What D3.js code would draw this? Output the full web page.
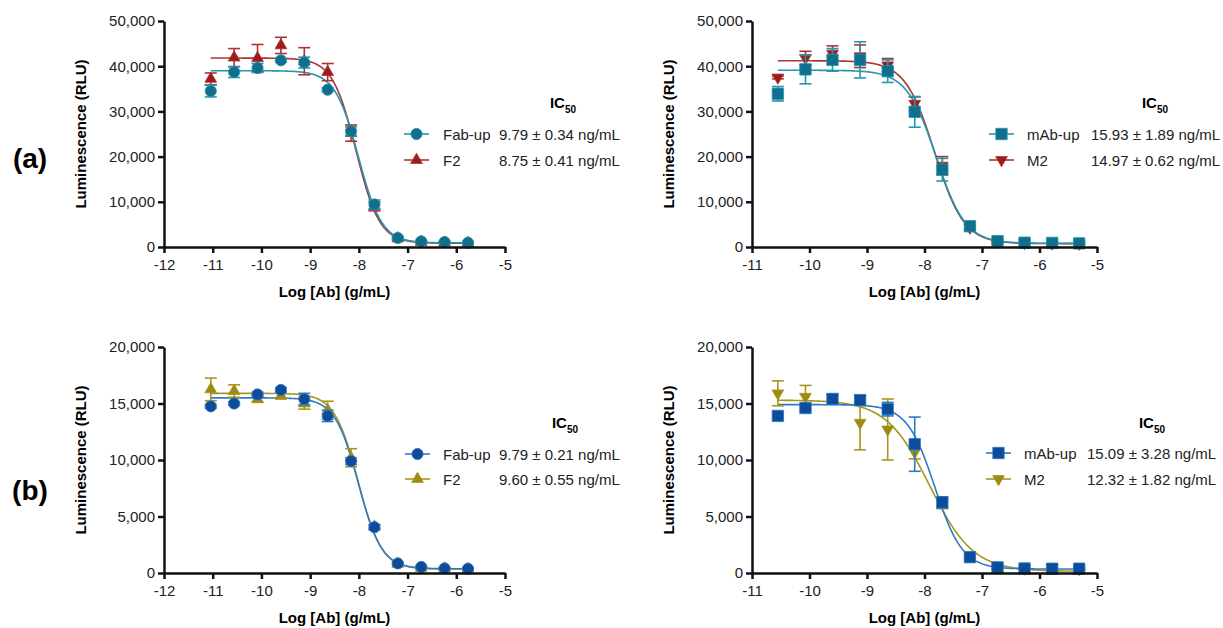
<!DOCTYPE html>
<html>
<head>
<meta charset="utf-8">
<script src="https://cdn.jsdelivr.net/npm/d3@7"></script>
<style>
  body { margin: 0; background: #fff; }
  svg { font-family: Arial, "Liberation Sans", sans-serif; }
  .axis path, .axis line { stroke: #111; stroke-width: 2.5px; }
  .axis text { font-size: 15px; fill: #222; }
</style>
</head>
<body>
<div id="chart"></div>
<script>
// x positions (log g/mL) of the dilution series
var xFab = [-11.04, -10.56, -10.08, -9.60, -9.12, -8.64, -8.16, -7.68, -7.20, -6.72, -6.24, -5.76];
var xMab = [-10.55, -10.07, -9.60, -9.12, -8.64, -8.17, -7.69, -7.21, -6.73, -6.26, -5.78, -5.31];

// (a) left
var fabUpA    = [34500, 38700, 39600, 41300, 40800, 34800, 25600, 9400, 2000, 1250, 1100, 950];
var fabUpAErr = [1300, 1200, 1000, 400, 1200, 400, 1000, 1000, 300, 200, 150, 150];
var f2A       = [37200, 41900, 41800, 44600, 41100, 38700, 25200, 9000, 1900, 1100, 950, 850];
var f2AErr    = [1300, 2000, 3000, 1800, 3000, 1900, 1800, 1000, 300, 200, 150, 150];
// (a) right
var mabUpA    = [33900, 39300, 41400, 41400, 38900, 29900, 17100, 4600, 1300, 950, 900, 800];
var mabUpAErr = [1600, 3200, 2500, 4000, 2500, 3400, 2500, 500, 300, 200, 200, 200];
var m2A       = [37500, 41800, 42800, 42200, 40200, 31700, 18000, 4300, 1100, 900, 800, 750];
var m2AErr    = [300, 1500, 1700, 2500, 1500, 1500, 2000, 500, 200, 150, 150, 150];
// (b) left
var fabUpB    = [14750, 15000, 15800, 16200, 15400, 13900, 9900, 4050, 850, 530, 410, 380];
var fabUpBErr = [150, 150, 200, 200, 500, 500, 300, 200, 100, 80, 60, 60];
var f2B       = [16250, 16100, 15400, 15700, 15000, 14400, 10200, 4100, 800, 450, 400, 350];
var f2BErr    = [1000, 550, 300, 300, 500, 800, 800, 200, 100, 80, 60, 60];
// (b) right
var mabUpB    = [13900, 14600, 15400, 15300, 14500, 11400, 6250, 1400, 500, 400, 380, 380];
var mabUpBErr = [150, 200, 400, 300, 600, 2400, 500, 200, 80, 60, 60, 60];
var m2B       = [15900, 15600, 15500, 13300, 12700, 10700, 6200, 1600, 500, 400, 450, 350];
var m2BErr    = [1100, 1000, 300, 2400, 2700, 600, 500, 200, 100, 80, 200, 80];

// fitted 4PL parameters: [top, bottom, hill], IC50 in ng/mL (from legend)
var fitFabUpA = [39000, 900, 1.8],  ic50FabUpA = 9.79,  ic50FabUpAErr = 0.34;
var fitF2A    = [41800, 850, 1.8],  ic50F2A    = 8.75,  ic50F2AErr    = 0.41;
var fitMabUpA = [39100, 800, 1.7],  ic50MabUpA = 15.93, ic50MabUpAErr = 1.89;
var fitM2A    = [41200, 750, 1.7],  ic50M2A    = 14.97, ic50M2AErr    = 0.62;
var fitFabUpB = [15500, 370, 1.8],  ic50FabUpB = 9.79,  ic50FabUpBErr = 0.21;
var fitF2B    = [15900, 350, 1.8],  ic50F2B    = 9.60,  ic50F2BErr    = 0.55;
var fitMabUpB = [14900, 350, 1.8],  ic50MabUpB = 15.09, ic50MabUpBErr = 3.28;
var fitM2B    = [15300, 150, 1.15], ic50M2B    = 12.32, ic50M2BErr    = 1.82;

var xTicksLeft = [-12, -11, -10, -9, -8, -7, -6, -5];
var xTicksRight = [-11, -10, -9, -8, -7, -6, -5];
var yTicksA = [0, 10000, 20000, 30000, 40000, 50000];
var yTicksB = [0, 5000, 10000, 15000, 20000];

var col = {
  teal: { mark: "#0f6f8c", line: "#2596ad" },
  red:  { mark: "#9e1b1b", line: "#ab3535" },
  blue: { mark: "#0d4c9b", line: "#2e7bc4" },
  olive:{ mark: "#9c8a12", line: "#a8961e" }
};

var svg = d3.select("#chart").append("svg")
  .attr("width", 1223)
  .attr("height", 628);

// panel labels
svg.append("text").attr("x", 30).attr("y", 168).attr("text-anchor", "middle")
  .style("font-size", "28px").style("font-weight", "bold").text("(a)");
svg.append("text").attr("x", 30).attr("y", 500).attr("text-anchor", "middle")
  .style("font-size", "28px").style("font-weight", "bold").text("(b)");

function shape(name) {
  if (name === "circle") return d3.symbol().type(d3.symbolCircle).size(100)();
  if (name === "square") return d3.symbol().type(d3.symbolSquare).size(130)();
  return d3.symbol().type(d3.symbolTriangle).size(60)();
}

function drawPanel(p) {
  var x = d3.scaleLinear().domain(p.xDomain).range([p.left, p.right]);
  var y = d3.scaleLinear().domain([0, p.yMax]).range([p.bottom, p.top]);
  var g = svg.append("g");

  // fitted curves
  p.series.forEach(function (s) {
    var logIC = Math.log10(s.ic50 * 1e-9);
    var xs = d3.range(s.x[0], s.x[s.x.length - 1] + 0.001, 0.02);
    var line = d3.line()
      .x(function (d) { return x(d); })
      .y(function (d) {
        return y(s.fit[1] + (s.fit[0] - s.fit[1]) / (1 + Math.pow(10, (d - logIC) * s.fit[2])));
      });
    g.append("path").datum(xs).attr("d", line)
      .style("fill", "none").style("stroke", s.color.line).style("stroke-width", "1.6px");
  });

  // error bars + markers
  p.series.forEach(function (s) {
    var pts = s.x.map(function (xv, i) { return { x: xv, y: s.y[i], e: s.err[i] }; });
    var eb = g.append("g").style("stroke", s.color.line).style("stroke-width", "1.6px");
    pts.forEach(function (d) {
      var cx = x(d.x), y1 = y(d.y - d.e), y2 = y(d.y + d.e);
      eb.append("line").attr("x1", cx).attr("x2", cx).attr("y1", y1).attr("y2", y2);
      eb.append("line").attr("x1", cx - 6).attr("x2", cx + 6).attr("y1", y1).attr("y2", y1);
      eb.append("line").attr("x1", cx - 6).attr("x2", cx + 6).attr("y1", y2).attr("y2", y2);
    });
    g.selectAll(null).data(pts).enter().append("path")
      .attr("d", shape(s.shape))
      .attr("transform", function (d) {
        return "translate(" + x(d.x) + "," + y(d.y) + ")" + (s.shape === "down" ? " rotate(180)" : "");
      })
      .style("fill", s.color.mark)
      .style("stroke", s.color.line).style("stroke-width", "0.8px");
  });

  // axes
  g.append("g").attr("class", "axis")
    .attr("transform", "translate(0," + p.bottom + ")")
    .call(d3.axisBottom(x).tickValues(p.xTicks).tickSize(6).tickSizeOuter(0)
      .tickFormat(function (d) { return String(d); }))
    .selectAll("text").attr("dy", "0.95em");
  g.append("g").attr("class", "axis")
    .attr("transform", "translate(" + p.left + ",0)")
    .call(d3.axisLeft(y).tickValues(p.yTicks).tickSize(6).tickSizeOuter(0)
      .tickFormat(d3.format(",")));

  // axis titles
  g.append("text")
    .attr("x", (p.left + p.right) / 2).attr("y", p.bottom + 50)
    .attr("text-anchor", "middle")
    .style("font-size", "15px").style("font-weight", "bold")
    .text("Log [Ab] (g/mL)");
  g.append("text")
    .attr("transform", "translate(" + (p.left - 78) + "," + ((p.top + p.bottom) / 2) + ") rotate(-90)")
    .attr("text-anchor", "middle")
    .style("font-size", "15px").style("font-weight", "bold")
    .text("Luminescence (RLU)");

  // legend
  var L = p.legend;
  var ic = g.append("text").attr("x", L.icX).attr("y", L.icY)
    .attr("text-anchor", "middle").style("font-size", "15px").style("font-weight", "bold");
  ic.append("tspan").text("IC");
  ic.append("tspan").attr("dy", 5).style("font-size", "10px").text("50");

  p.series.forEach(function (s, i) {
    var ry = L.rowY[i];
    g.append("line").attr("x1", L.lineX).attr("x2", L.lineX + 25)
      .attr("y1", ry).attr("y2", ry)
      .style("stroke", s.color.line).style("stroke-width", "1.6px");
    g.append("path").attr("d", shape(s.shape))
      .attr("transform", "translate(" + (L.lineX + 12.5) + "," + ry + ")" + (s.shape === "down" ? " rotate(180)" : ""))
      .style("fill", s.color.mark).style("stroke", s.color.line).style("stroke-width", "0.8px");
    g.append("text").attr("x", L.nameX).attr("y", ry + 5.5)
      .style("font-size", "15px").style("fill", "#222").text(s.name);
    g.append("text").attr("x", L.valX).attr("y", ry + 5.5)
      .style("font-size", "15px").style("fill", "#222")
      .text(s.ic50.toFixed(2) + " \u00b1 " + s.ic50Err.toFixed(2) + " ng/mL");
  });
}

// series listed bottom-drawn first; legend rows given per series
drawPanel({
  left: 164, right: 505, top: 21, bottom: 247, xDomain: [-12, -5], yMax: 50000,
  xTicks: xTicksLeft, yTicks: yTicksA,
  series: [
    { name: "F2", x: xFab, y: f2A, err: f2AErr, fit: fitF2A, ic50: ic50F2A, ic50Err: ic50F2AErr, color: col.red, shape: "up" },
    { name: "Fab-up", x: xFab, y: fabUpA, err: fabUpAErr, fit: fitFabUpA, ic50: ic50FabUpA, ic50Err: ic50FabUpAErr, color: col.teal, shape: "circle" }
  ],
  legend: { icX: 563, icY: 108, rowY: [160, 134], lineX: 404, nameX: 443, valX: 499 }
});

drawPanel({
  left: 752, right: 1097, top: 21, bottom: 247, xDomain: [-11, -5], yMax: 50000,
  xTicks: xTicksRight, yTicks: yTicksA,
  series: [
    { name: "M2", x: xMab, y: m2A, err: m2AErr, fit: fitM2A, ic50: ic50M2A, ic50Err: ic50M2AErr, color: col.red, shape: "down" },
    { name: "mAb-up", x: xMab, y: mabUpA, err: mabUpAErr, fit: fitMabUpA, ic50: ic50MabUpA, ic50Err: ic50MabUpAErr, color: col.teal, shape: "square" }
  ],
  legend: { icX: 1155, icY: 108, rowY: [160, 134], lineX: 989, nameX: 1027, valX: 1091 }
});

drawPanel({
  left: 164, right: 505, top: 347, bottom: 573, xDomain: [-12, -5], yMax: 20000,
  xTicks: xTicksLeft, yTicks: yTicksB,
  series: [
    { name: "F2", x: xFab, y: f2B, err: f2BErr, fit: fitF2B, ic50: ic50F2B, ic50Err: ic50F2BErr, color: col.olive, shape: "up" },
    { name: "Fab-up", x: xFab, y: fabUpB, err: fabUpBErr, fit: fitFabUpB, ic50: ic50FabUpB, ic50Err: ic50FabUpBErr, color: col.blue, shape: "circle" }
  ],
  legend: { icX: 565, icY: 428, rowY: [479, 454], lineX: 405, nameX: 443, valX: 499 }
});

drawPanel({
  left: 752, right: 1097, top: 347, bottom: 573, xDomain: [-11, -5], yMax: 20000,
  xTicks: xTicksRight, yTicks: yTicksB,
  series: [
    { name: "M2", x: xMab, y: m2B, err: m2BErr, fit: fitM2B, ic50: ic50M2B, ic50Err: ic50M2BErr, color: col.olive, shape: "down" },
    { name: "mAb-up", x: xMab, y: mabUpB, err: mabUpBErr, fit: fitMabUpB, ic50: ic50MabUpB, ic50Err: ic50MabUpBErr, color: col.blue, shape: "square" }
  ],
  legend: { icX: 1152, icY: 428, rowY: [479, 453], lineX: 986, nameX: 1024, valX: 1087 }
});
</script>
</body>
</html>
